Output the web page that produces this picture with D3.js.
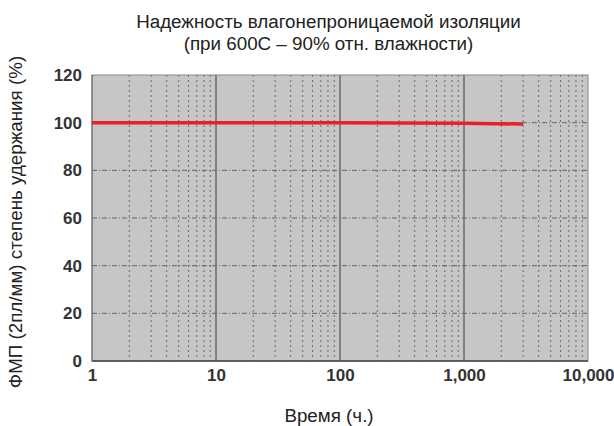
<!DOCTYPE html>
<html><head><meta charset="utf-8">
<script src="https://cdn.jsdelivr.net/npm/d3@7"></script>
<style>body{margin:0;background:#fff;}svg{display:block;font-family:"Liberation Sans",Arial,sans-serif;}</style>
</head><body><svg id="c" width="614" height="426"></svg>
<script>
const titleLines = ["Надежность влагонепроницаемой изоляции", "(при 600С – 90% отн. влажности)"];
const xLabel = "Время (ч.)";
const yLabel = "ФМП (2пл/мм) степень удержания (%)";
const xTicks = [1, 10, 100, 1000, 10000];
const xTickLabels = ["1", "10", "100", "1,000", "10,000"];
const yTicks = [0, 20, 40, 60, 80, 100, 120];
const hours = [1, 10, 100, 1000, 3000];
const retention = [100, 100, 100, 99.8, 99.4];

const svg = d3.select("#c");
const m = {l: 92, r: 588, t: 75, b: 361};
const x = d3.scaleLog().domain([1, 10000]).range([m.l, m.r]);
const y = d3.scaleLinear().domain([0, 120]).range([m.b, m.t]);

svg.append("rect").attr("x", m.l).attr("y", m.t).attr("width", m.r - m.l).attr("height", m.b - m.t)
  .attr("fill", "#c6c6c6");

// minor vertical grid
const minor = [];
for (let d = 1; d < 10000; d *= 10) for (let k = 2; k <= 9; k++) minor.push(d * k);
svg.append("g").selectAll("line").data(minor).join("line")
  .attr("x1", d => x(d)).attr("x2", d => x(d)).attr("y1", m.t).attr("y2", m.b)
  .attr("stroke", "#555").attr("stroke-width", 1).attr("stroke-dasharray", "2,3").attr("opacity", 0.8);

// horizontal grid
svg.append("g").selectAll("line").data(yTicks.slice(1, -1)).join("line")
  .attr("x1", m.l).attr("x2", m.r).attr("y1", d => y(d)).attr("y2", d => y(d))
  .attr("stroke", "#555").attr("stroke-width", 1).attr("stroke-dasharray", "5,2,1,2").attr("opacity", 0.85);

// major vertical grid
svg.append("g").selectAll("line").data(xTicks.slice(1, -1)).join("line")
  .attr("x1", d => x(d)).attr("x2", d => x(d)).attr("y1", m.t).attr("y2", m.b)
  .attr("stroke", "#6a6a6a").attr("stroke-width", 1.5);

// border
svg.append("rect").attr("x", m.l).attr("y", m.t).attr("width", m.r - m.l).attr("height", m.b - m.t)
  .attr("fill", "none").attr("stroke", "#888").attr("stroke-width", 1);
svg.append("line").attr("x1", m.l).attr("x2", m.r).attr("y1", m.b).attr("y2", m.b)
  .attr("stroke", "#444").attr("stroke-width", 1.5);
svg.append("line").attr("x1", m.l).attr("x2", m.l).attr("y1", m.t).attr("y2", m.b)
  .attr("stroke", "#666").attr("stroke-width", 1);

// data line
const pts = hours.map((h, i) => [h, retention[i]]);
svg.append("path").datum(pts)
  .attr("d", d3.line().x(d => x(d[0])).y(d => y(d[1])))
  .attr("fill", "none").attr("stroke", "#e8202a").attr("stroke-width", 3.5);

// axes labels
const xAxis = d3.axisBottom(x).tickValues(xTicks).tickFormat((d, i) => xTickLabels[i]).tickSize(0).tickPadding(8);
const gx = svg.append("g").attr("transform", `translate(0,${m.b})`).call(xAxis);
gx.select(".domain").remove();
gx.selectAll("text").attr("font-size", 17).attr("font-weight", "bold").attr("fill", "#333")
  .attr("font-family", "Liberation Sans, Arial, sans-serif");

const yAxis = d3.axisLeft(y).tickValues(yTicks).tickSize(0).tickPadding(10);
const gy = svg.append("g").attr("transform", `translate(${m.l},0)`).call(yAxis);
gy.select(".domain").remove();
gy.selectAll("text").attr("font-size", 17).attr("font-weight", "bold").attr("fill", "#333")
  .attr("font-family", "Liberation Sans, Arial, sans-serif");

// titles
svg.append("g").selectAll("text").data(titleLines).join("text")
  .attr("x", 328.5).attr("y", (d, i) => 28 + i * 22).attr("text-anchor", "middle")
  .attr("font-size", 18.8).attr("fill", "#222").text(d => d);

svg.append("text").attr("x", 329).attr("y", 422).attr("text-anchor", "middle")
  .attr("font-size", 18.8).attr("fill", "#222").text(xLabel);

svg.append("text").attr("transform", "translate(22,222) rotate(-90)").attr("text-anchor", "middle")
  .attr("font-size", 18.8).attr("fill", "#222").text(yLabel);
</script></body></html>
